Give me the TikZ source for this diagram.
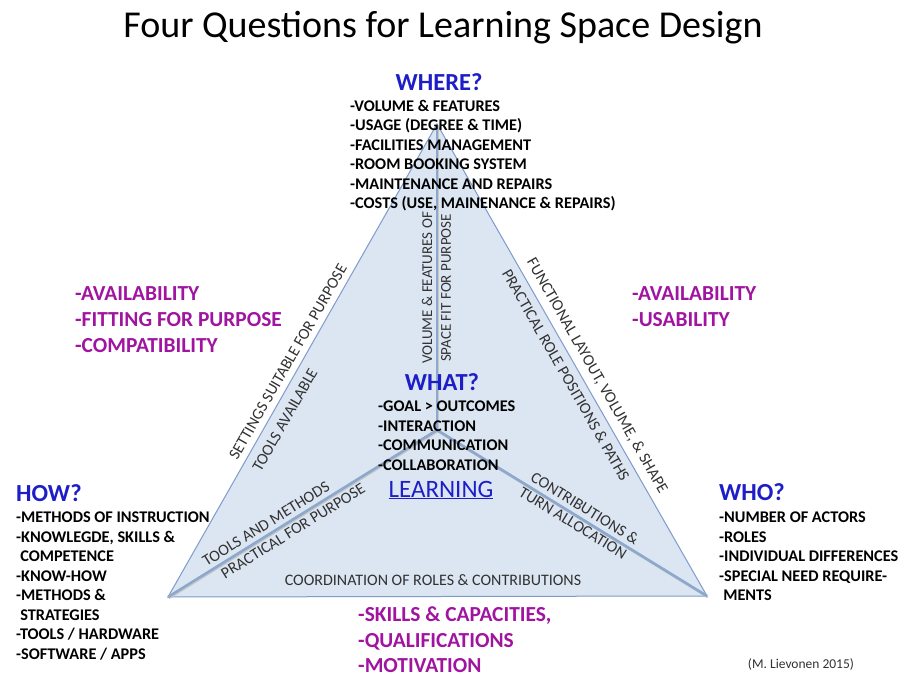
\documentclass[tikz,border=0pt]{standalone}
\usepackage{fontspec}
\setmainfont{Carlito}
\definecolor{qblue}{RGB}{30,30,200}
\definecolor{magc}{RGB}{160,20,160}
\definecolor{trifill}{RGB}{220,230,242}
\definecolor{triedge}{RGB}{125,155,205}
\definecolor{innerc}{RGB}{140,168,205}
\definecolor{etext}{RGB}{50,50,50}
\begin{document}
\begin{tikzpicture}[x=1pt,y=-1pt,
 lst/.style={font=\fontsize{16.3}{19.5}\selectfont\bfseries, align=left, anchor=north west, inner sep=0pt},
 qst/.style={font=\fontsize{24.5}{28}\selectfont\bfseries, text=qblue, inner sep=0pt},
 magtxt/.style={font=\fontsize{21.4}{26}\selectfont\bfseries, text=magc, align=left, anchor=north west, inner sep=0pt},
 edgetxt/.style={font=\fontsize{16}{19}\selectfont, text=etext, inner sep=0pt},
 triline/.style={draw=triedge, line width=1pt},
 innerline/.style={draw=innerc, line width=2.6pt},
 innershadow/.style={draw=black!22, line width=2.6pt}
]
\useasboundingbox (0,0) rectangle (912,674);
\fill[white] (0,0) rectangle (912,674);

\coordinate (L) at (168,597);
\coordinate (T) at (437,124);
\coordinate (R) at (707,596);
\coordinate (C) at (437,430);

\fill[trifill] (L) -- (T) -- (R) -- cycle;
\draw[triline] (L) -- (T) -- (R) -- cycle;
\begin{scope}[transform canvas={xshift=0.8pt,yshift=-1pt}]
\draw[innershadow] (T) -- (C);
\draw[innershadow] (C) -- (L);
\draw[innershadow] (C) -- (R);
\end{scope}
\draw[innerline] (T) -- (C);
\draw[innerline] (C) -- (L);
\draw[innerline] (C) -- (R);

% title
\node[font=\fontsize{38}{42}\selectfont, inner sep=0pt] (title) at (443,28) {Four Questions for Learning Space Design};

% WHERE
\node[qst] (where) at (439,82) {WHERE?};
\node[lst] (wherelist) at (350,100) {-VOLUME \& FEATURES\\-USAGE (DEGREE \& TIME)\\-FACILITIES MANAGEMENT\\-ROOM BOOKING SYSTEM\\-MAINTENANCE AND REPAIRS\\-COSTS (USE, MAINENANCE \& REPAIRS)};

% WHAT
\node[qst] (what) at (442,382) {WHAT?};
\node[lst] (whatlist) at (378,401) {-GOAL > OUTCOMES\\-INTERACTION\\-COMMUNICATION\\-COLLABORATION};
\node[font=\fontsize{25}{28}\selectfont, text=qblue, inner sep=0pt] (learning) at (441,490) {\underline{LEARNING}};

% HOW
\node[qst, anchor=west] (how) at (16,493) {HOW?};
\node[lst] (howlist) at (16,512) {-METHODS OF INSTRUCTION\\-KNOWLEGDE, SKILLS \&\\\hspace*{0.25em}COMPETENCE\\-KNOW-HOW\\-METHODS \&\\\hspace*{0.25em}STRATEGIES\\-TOOLS / HARDWARE\\-SOFTWARE / APPS};

% WHO
\node[qst, anchor=west] (who) at (719,492) {WHO?};
\node[lst] (wholist) at (719,512) {-NUMBER OF ACTORS\\-ROLES\\-INDIVIDUAL DIFFERENCES\\-SPECIAL NEED REQUIRE-\\\hspace*{0.25em}MENTS};

% magenta lists
\node[magtxt] (magleft) at (75,286) {-AVAILABILITY\\-FITTING FOR PURPOSE\\-COMPATIBILITY};
\node[magtxt] (magright) at (632,286) {-AVAILABILITY\\-USABILITY};
\node[magtxt, font=\fontsize{21.4}{25.5}\selectfont\bfseries] (magbottom) at (358,607) {-SKILLS \& CAPACITIES,\\-QUALIFICATIONS\\-MOTIVATION};

% edge texts
\node[edgetxt, rotate=60.3] (settings) at (288,362) {SETTINGS SUITABLE FOR PURPOSE};
\node[edgetxt, rotate=60.3] (toolsav) at (285,420) {TOOLS AVAILABLE};
\node[edgetxt, font=\fontsize{15}{18}\selectfont, rotate=90] (volfeat) at (427,288) {VOLUME \& FEATURES OF};
\node[edgetxt, font=\fontsize{15}{18}\selectfont, rotate=90] (spacefit) at (446,288) {SPACE FIT FOR PURPOSE};
\node[edgetxt, rotate=-60.2] (functional) at (597,376) {FUNCTIONAL LAYOUT, VOLUME, \& SHAPE};
\node[edgetxt, rotate=-60.2] (practrole) at (566,375) {PRACTICAL ROLE POSITIONS \& PATHS};
\node[edgetxt, rotate=31.8] (toolsmeth) at (266,524) {TOOLS AND METHODS};
\node[edgetxt, rotate=31.8] (practpurp) at (293,531) {PRACTICAL FOR PURPOSE};
\node[edgetxt, rotate=-31.6] (contrib) at (585,508) {CONTRIBUTIONS \&};
\node[edgetxt, rotate=-31.6] (turnalloc) at (573,523) {TURN ALLOCATION};
\node[edgetxt] (coord) at (433,580) {COORDINATION OF ROLES \& CONTRIBUTIONS};

\node[font=\fontsize{13.5}{15}\selectfont, text=etext, inner sep=0pt] (cite) at (801,664) {(M. Lievonen 2015)};
\end{tikzpicture}
\end{document}
